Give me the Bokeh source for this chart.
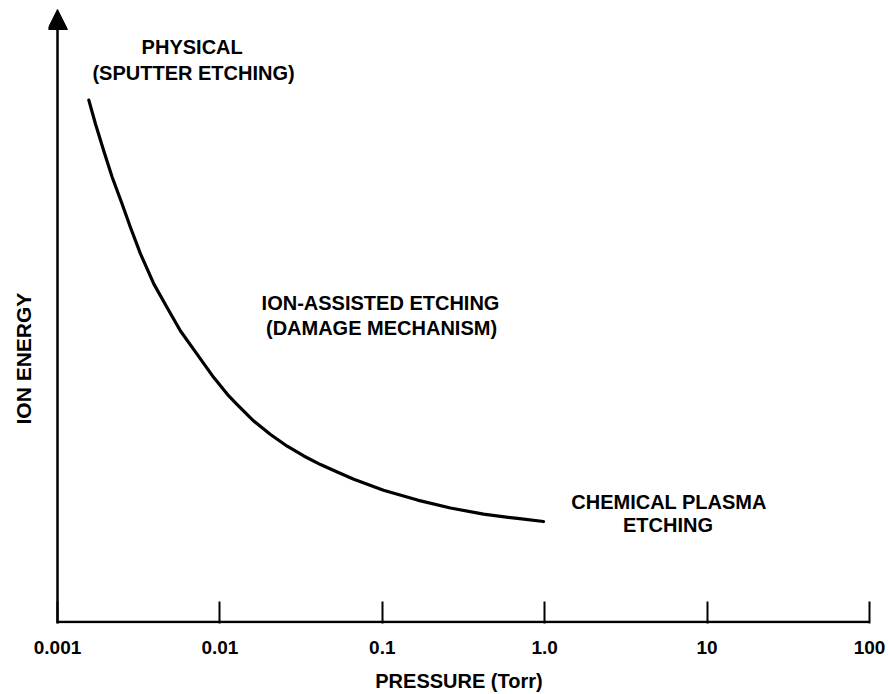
from bokeh.plotting import figure
from bokeh.models import (Range1d, FixedTicker, CustomJSTickFormatter, Arrow,
                          NormalHead, Label, Title, ColumnDataSource)
from bokeh.embed import file_html
from bokeh.resources import INLINE

# --- data ---
pressure_torr = [0.001559, 0.001714, 0.001928, 0.002172, 0.002503, 0.002815,
                 0.003244, 0.003917, 0.004737, 0.005720, 0.007249, 0.009171,
                 0.01134, 0.01278, 0.01617, 0.02049, 0.02597, 0.03285,
                 0.04164, 0.05277, 0.06676, 0.1017, 0.1647,
                 0.2630, 0.4200, 0.6801, 0.9831]
ion_energy = [85.2, 81.3, 76.9, 72.6, 68.2, 64.4,
              60.1, 55.2, 51.3, 47.5, 43.7, 39.9,
              36.9, 35.5, 32.8, 30.6, 28.7, 27.1,
              25.7, 24.5, 23.3, 21.5, 19.9,
              18.6, 17.6, 16.9, 16.4]
tick_values = [0.001, 0.01, 0.1, 1.0, 10.0, 100.0]
tick_labels = ["0.001", "0.01", "0.1", "1.0", "10", "100"]
x_title = "PRESSURE (Torr)"
y_title = "ION ENERGY"

FONT = "Liberation Sans"

p = figure(width=888, height=694, x_axis_type="log",
           x_range=Range1d(10 ** -3.0554, 100), y_range=Range1d(-0.25, 100),
           output_backend="svg", toolbar_location=None,
           min_border_left=48, min_border_right=19, min_border_top=9,
           min_border_bottom=70)
p.outline_line_color = None
p.grid.visible = False
p.background_fill_color = "white"

src = ColumnDataSource(data=dict(x=pressure_torr, y=ion_energy))
p.line("x", "y", source=src, line_color="black", line_width=3.2,
       line_cap="round", line_join="round")

# x axis: ticks and labels from Bokeh, baseline drawn from the first tick
xa = p.xaxis[0]
xa.ticker = FixedTicker(ticks=tick_values, minor_ticks=[])
xa.formatter = CustomJSTickFormatter(args=dict(vals=tick_values, labs=tick_labels), code="""
    for (let i = 0; i < vals.length; i++) {
        if (Math.abs(Math.log10(vals[i]) - Math.log10(tick)) < 1e-6) return labs[i];
    }
    return "";
""")
xa.axis_line_color = None
xa.major_tick_in = 22
xa.major_tick_out = 0
xa.major_tick_line_width = 2
xa.major_tick_line_color = "black"
xa.minor_tick_line_color = None
xa.major_label_standoff = 17
xa.major_label_text_font = FONT
xa.major_label_text_font_style = "bold"
xa.major_label_text_font_size = "19px"
xa.major_label_text_color = "black"
xa.axis_label = x_title
xa.axis_label_text_font = FONT
xa.axis_label_text_font_style = "bold"
xa.axis_label_text_font_size = "20px"
xa.axis_label_text_color = "black"
xa.axis_label_standoff = 13

p.yaxis.visible = False

x0, x1 = tick_values[0], tick_values[-1]
p.add_layout(Arrow(x_start=x0, y_start=0, x_end=x1, y_end=0,
                   line_width=2.5, line_color="black", end=None))
p.add_layout(Arrow(x_start=x0, y_start=-0.25, x_end=x0, y_end=100,
                   line_width=2.5, line_color="black",
                   end=NormalHead(size=20, fill_color="black", line_color="black",
                                  line_width=1)))

p.add_layout(Title(text=y_title, align="left", offset=199, vertical_align="top",
                   standoff=23,
                   text_font=FONT, text_font_style="bold", text_font_size="21px",
                   text_color="black"), "left")

def note(x, y, t):
    p.add_layout(Label(x=x, y=y, text=t, text_align="center", text_baseline="middle",
                       text_font=FONT, text_font_style="bold",
                       text_font_size="20px", text_color="black"))

note(0.00675, 93.8, "PHYSICAL")
note(0.00688, 89.7, "(SPUTTER ETCHING)")
note(0.0975, 52.1, "ION-ASSISTED ETCHING")
note(0.0989, 48.0, "(DAMAGE MECHANISM)")
note(5.83, 19.6, "CHEMICAL PLASMA")
note(5.74, 15.9, "ETCHING")

open("out.html", "w").write(file_html(p, INLINE))
